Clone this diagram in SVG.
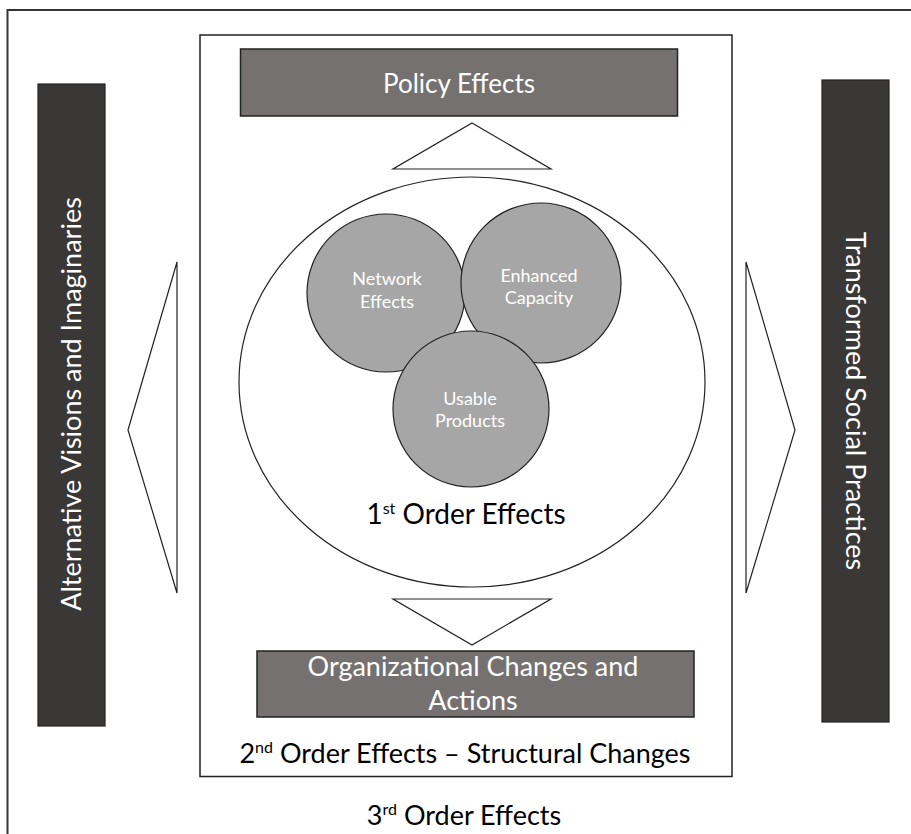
<svg xmlns="http://www.w3.org/2000/svg" width="911" height="834" viewBox="0 0 911 834">
<style>
.frame{fill:none;stroke:#333;stroke-width:2}
.box{fill:#fff;stroke:#222;stroke-width:1.5}
.grey{fill:#757170;stroke:#222;stroke-width:1.5}
.dark{fill:#3a3836;stroke:#222;stroke-width:1.2}
.circ{fill:#a6a6a6;stroke:#222;stroke-width:1.2}
.arrow{fill:#fff;stroke:#222;stroke-width:1.2}
.ell{fill:#fff;stroke:#222;stroke-width:1.2}
text{font-family:Lato,"Open Sans","Liberation Sans",sans-serif;text-anchor:middle}
.wt{fill:#fff}
.bt{fill:#000}
</style>
<rect width="911" height="834" fill="#fff"/>
<path class="frame" d="M7.5,834 V10 H911"/>
<g id="box-2nd-order">
<rect class="box" x="200" y="35" width="532" height="741.5"/>
<text class="bt" x="465" y="763" font-size="27">2<tspan font-size="16" dy="-10">nd</tspan><tspan dy="10"> Order Effects – Structural Changes</tspan></text>
</g>
<g id="third-order">
<text class="bt" x="464" y="825" font-size="27">3<tspan font-size="16" dy="-10">rd</tspan><tspan dy="10"> Order Effects</tspan></text>
</g>
<g id="left-bar">
<rect class="dark" x="38" y="84" width="67" height="642"/>
<text class="wt" font-size="27" transform="translate(81,404) rotate(-90)">Alternative Visions and Imaginaries</text>
</g>
<g id="right-bar">
<rect class="dark" x="822" y="80" width="67" height="642"/>
<text class="wt" font-size="27" transform="translate(846,401) rotate(90)">Transformed Social Practices</text>
</g>
<g id="policy-effects">
<rect class="grey" x="240.5" y="49" width="437" height="67"/>
<text class="wt" x="459" y="93" font-size="26">Policy Effects</text>
</g>
<g id="org-changes">
<rect class="grey" x="257" y="651" width="437" height="66"/>
<text class="wt" x="473" y="676" font-size="27">Organizational Changes and</text>
<text class="wt" x="473" y="710" font-size="27">Actions</text>
</g>
<g id="first-order">
<ellipse class="ell" cx="472" cy="382" rx="233" ry="205"/>
<text class="bt" x="466" y="524" font-size="28">1<tspan font-size="16" dy="-10">st</tspan><tspan dy="10"> Order Effects</tspan></text>
</g>
<g id="network-effects">
<circle class="circ" cx="386" cy="293" r="79"/>
<text class="wt" x="387" y="285" font-size="18">Network</text>
<text class="wt" x="387" y="308" font-size="18">Effects</text>
</g>
<g id="enhanced-capacity">
<circle class="circ" cx="541" cy="283" r="80"/>
<text class="wt" x="539" y="282" font-size="18">Enhanced</text>
<text class="wt" x="539" y="304" font-size="18">Capacity</text>
</g>
<g id="usable-products">
<circle class="circ" cx="471" cy="409" r="78"/>
<text class="wt" x="470" y="405" font-size="18">Usable</text>
<text class="wt" x="470" y="427" font-size="18">Products</text>
</g>
<g id="connectors">
<polygon class="arrow" points="472,123 551,169 393,169"/>
<polygon class="arrow" points="393,599 551,599 472,645"/>
<polygon class="arrow" points="177,262 128,430 177,593"/>
<polygon class="arrow" points="746,262 795,430 746,593"/>
</g>
</svg>
